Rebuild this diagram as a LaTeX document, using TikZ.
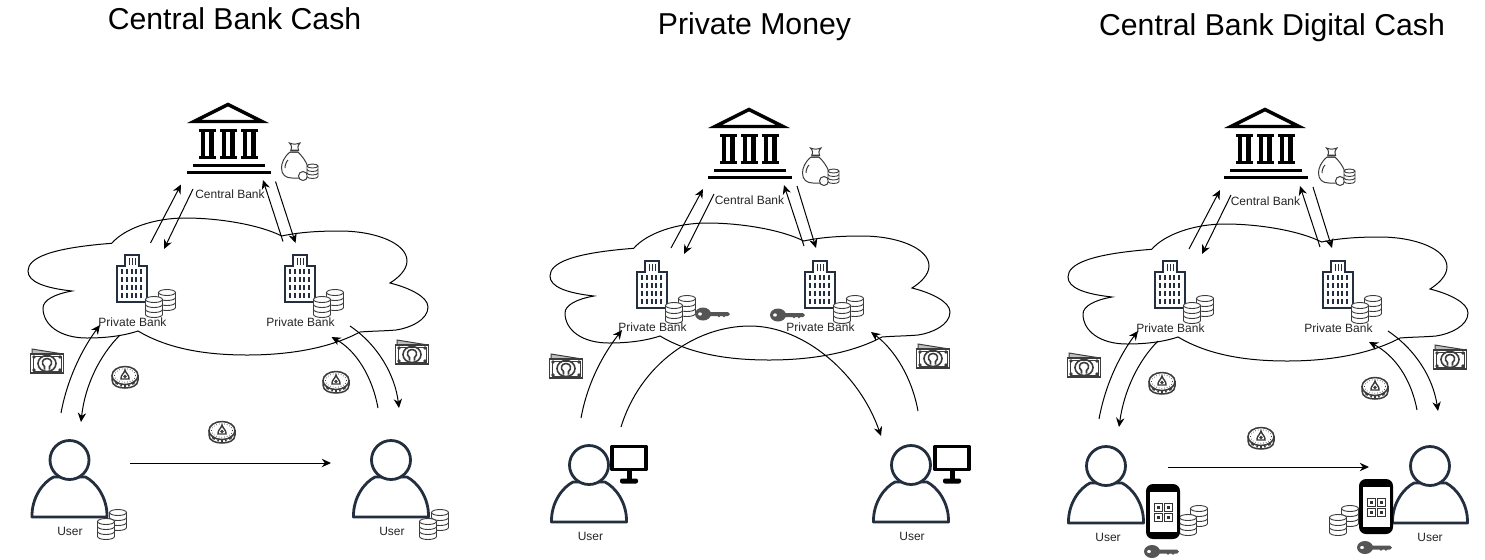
\documentclass[tikz,border=0pt]{standalone}
\usepackage{fontspec}
\setmainfont{Liberation Sans}
\usetikzlibrary{arrows.meta}
\definecolor{navy}{HTML}{232F3E}
\definecolor{stackgray}{HTML}{3C3C3C}
\definecolor{keygray}{HTML}{555555}
\tikzset{
  x=0.5pt,y=-0.5pt,
  flow/.style={line width=0.5pt,-{Stealth[length=4.6pt,width=4.2pt]}},
  smalltext/.style={font=\fontsize{6}{7}\selectfont,text=black!85,inner sep=0pt},
  titletext/.style={font=\fontsize{15.1}{18}\selectfont,inner sep=0pt},
  cloudshape/.pic={
    \draw[line width=0.5pt] (111.7,243.3)
      .. controls (125,228) and (155,218) .. (185,218)
      .. controls (220,218) and (260,225) .. (281.7,236)
      .. controls (300,232) and (320,231) .. (340,231)
      .. controls (375,231) and (407,243) .. (407,261)
      .. controls (407,270) and (398,278) .. (390,283)
      .. controls (410,288) and (428,297) .. (428,307)
      .. controls (428,320) and (410,328) .. (396,330)
      .. controls (385,331) and (372,331) .. (360,332)
      .. controls (330,348) and (290,355) .. (247,355)
      .. controls (200,355) and (165,347) .. (138,331)
      .. controls (120,337) and (100,338) .. (87,338)
      .. controls (60,338) and (43,325) .. (43,308)
      .. controls (43,300) and (55,294) .. (72,291)
      .. controls (45,288) and (28,282) .. (28,271)
      .. controls (28,258) and (50,248) .. (111.7,243.3) -- cycle;
  },
  bankicon/.pic={
    \draw[line width=1.7pt,line join=miter] (-34,20.5) -- (0,3.5) -- (34,20.5) -- cycle;
    \foreach \cx in {-21,0,21}{
      \fill (\cx-8.5,27.5) rectangle (\cx+8.5,30.5);
      \fill (\cx-8.5,54.5) rectangle (\cx+8.5,57.5);
      \fill (\cx-6.5,29) rectangle (\cx-2.4,56);
      \fill (\cx+2.4,29) rectangle (\cx+6.5,56);
    }
    \fill (-35,62.5) rectangle (37,65.5);
    \fill (-41,70) rectangle (43,73);
  },
  towericon/.pic={
    \draw[navy,line width=0.85pt,fill=white] (-14.7,24) -- (-14.7,-12) -- (-7,-12) -- (-7,-23) -- (7,-23) -- (7,-12) -- (14.7,-12) -- (14.7,24) -- cycle;
    \foreach \cx in {-2.5,0.5,3.5}{\fill[navy] (\cx-.5,-20) rectangle (\cx+.5,-13);}
    \foreach \ry in {-9,-1,7,15}{
      \foreach \cx in {-11,-6.2,-1.4,3.4,8.2}{
        \fill[navy] (\cx,\ry) rectangle (\cx+1.9,\ry+4.6);
      }
    }
  },
  stackicon/.pic={
    \draw[stackgray,line width=0.45pt,fill=white] (-8.5,-7.5) -- (-8.5,7.5) arc[start angle=180,end angle=360,x radius=8.5,y radius=-3] -- (8.5,-7.5);
    \draw[stackgray,line width=0.45pt,fill=white] (0,-7.5) ellipse[x radius=8.5,y radius=3];
    \foreach \ly in {-2.5,2.5}{
      \draw[stackgray,line width=0.45pt] (-8.5,\ly) arc[start angle=180,end angle=360,x radius=8.5,y radius=-3];
    }
  },
  bagicon/.pic={
    \draw[line width=0.5pt,stackgray,fill=white] (-5,-13) .. controls (-11,-8) and (-13.5,-2) .. (-13.5,3)
      .. controls (-13.5,10) and (-9,13) .. (-3,13) -- (5,13)
      .. controls (13,13) and (15,8) .. (13,2)
      .. controls (11,-4) and (7,-9) .. (3,-13) -- cycle;
    \draw[line width=0.5pt,stackgray,fill=white] (-4,-14.5) .. controls (-3,-17) and (-3,-19) .. (-5.5,-22)
      .. controls (-2,-20.5) and (1,-20.5) .. (5,-22)
      .. controls (2.5,-19) and (2.5,-17) .. (3.5,-14.5) -- cycle;
    \draw[line width=0.5pt,stackgray] (-5,-13) -- (3,-13) (-5,-15) -- (4,-15) (-10,3) .. controls (-10,-1) and (-8,-4) .. (-7,-5);
    \draw[line width=0.5pt,stackgray,fill=white] (8,11) circle[radius=4.5];
    \draw[stackgray,line width=0.45pt,fill=white] (12,1) -- (12,11.5) arc[start angle=180,end angle=360,x radius=5.5,y radius=-2] -- (23,1);
    \draw[stackgray,line width=0.45pt,fill=white] (17.5,1) ellipse[x radius=5.5,y radius=2];
    \foreach \ly in {4.5,8}{\draw[stackgray,line width=0.45pt] (12,\ly) arc[start angle=180,end angle=360,x radius=5.5,y radius=-2];}
  },
  billicon/.pic={
    \draw[stackgray,line width=0.5pt,fill=white!75!black] (-15,-12) -- (16,-7) -- (16,-2) -- (-15,-6) -- cycle;
    \draw[stackgray,line width=0.8pt,fill=white] (-16.5,-7) rectangle (16.5,12);
    \draw[stackgray,line width=0.5pt] (-14,-5) rectangle (14,10);
    \foreach \qx/\qy in {-13/-4,13/-4,-13/9,13/9}{\fill[stackgray] (\qx,\qy) circle[radius=1.8];}
    \draw[stackgray,line width=0.8pt] (0,2.5) ellipse[x radius=9,y radius=8];
    \draw[stackgray,line width=0.8pt] (-2.5,8.5) -- (-2.5,5.5) .. controls (-6,3) and (-5,-2.5) .. (0,-2.5) .. controls (5,-2.5) and (6,3) .. (2.5,5.5) -- (2.5,8.5);
  },
  coinicon/.pic={
    \draw[stackgray,line width=0.75pt,fill=white] (-13,-2) -- (-13,3) .. controls (-13,9) and (-6,11) .. (0,11) .. controls (6,11) and (13,9) .. (13,3) -- (13,-2);
    \draw[stackgray,line width=0.75pt,fill=white] (0,-1.5) ellipse[x radius=13,y radius=9];
    \draw[stackgray,line width=0.35pt,densely dotted] (0,-1.5) ellipse[x radius=10.5,y radius=6.8];
    \draw[stackgray,line width=0.7pt,fill=white] (-4,2) .. controls (-4.5,-2) and (-1,-3) .. (0,-7) .. controls (1,-3) and (4.5,-2) .. (4,2) -- cycle;
    \fill[stackgray] (0,-0.5) circle[radius=1.8];
    \draw[stackgray,line width=1.2pt,line cap=butt] (-9.5,5) -- (-7,7) (-4.5,8) -- (-3,8.6) (-0.8,9) -- (0.8,9) (3,8.6) -- (4.5,8) (7,7) -- (9.5,5);
  },
  usericon/.pic={
    \draw[navy,line width=1.4pt,line join=round,fill=white] (-37.5,0) .. controls (-38,-20) and (-26,-35) .. (-16,-40) -- (16,-40) .. controls (26,-35) and (38,-20) .. (37.5,0) -- cycle;
    \draw[navy,line width=1.4pt,fill=white] (0,-57) circle[radius=19.5];
  },
  monitoricon/.pic={
    \draw[line width=1.6pt,line join=round,fill=white] (-17,-12) rectangle (17,11);
    \fill (-2.5,12) rectangle (2.5,21);
    \fill[rounded corners=1pt] (-9,20) rectangle (9,25);
  },
  phoneicon/.pic={
    \fill[black,rounded corners=3.5pt] (-17,-28) rectangle (17,27);
    \fill[white] (-13.5,-20) rectangle (13.5,20);
    \foreach \qx/\qy in {-9/-9,1/-9,-9/1,1/1}{
      \draw[black!80,line width=0.5pt] (\qx,\qy) rectangle (\qx+8,\qy+8);
      \fill[black!80] (\qx+2.5,\qy+2.5) rectangle (\qx+5.5,\qy+5.5);
    }
  },
  keyicon/.pic={
    \fill[keygray,even odd rule] (0,0) ellipse[x radius=8,y radius=6.5] (-3,0) ellipse[x radius=2,y radius=1.7];
    \fill[keygray] (5,-2) -- (25,-2) -- (27,0) -- (25,2) -- (22.5,2) -- (21,3.4) -- (19.5,2) -- (17.5,2) -- (16,3.4) -- (14.5,2) -- (5,2) -- cycle;
  },
}
\begin{document}
\begin{tikzpicture}
\useasboundingbox[fill=white] (0,0) rectangle (1485,559);

% ---- titles
\node[titletext] (title1) at (234.5,19) {Central Bank Cash};
\node[titletext] (title2) at (754.5,26.5) {Private Money};
\node[titletext] (title3) at (1272,27.5) {Central Bank Digital Cash};

% ---- clouds
\pic at (0,0) {cloudshape};
\pic at (522,5) {cloudshape};
\pic at (1040,6) {cloudshape};

% ---- central banks
\pic at (228,101) {bankicon};
\pic at (749,106) {bankicon};
\pic at (1265,106) {bankicon};
\pic at (295,165) {bagicon};
\pic at (816,170) {bagicon};
\pic at (1332,170) {bagicon};
\node[smalltext] (cb1) at (230,194.5) {Central Bank};
\node[smalltext] (cb2) at (749.5,200) {Central Bank};
\node[smalltext] (cb3) at (1265.5,201) {Central Bank};

% ---- private banks
\foreach \tx/\ty in {132/278,300/278,652/284,820/284,1170/284,1338/284}{
  \pic at (\tx,\ty) {towericon};
  \pic at (\tx+35,\ty+22) {stackicon};
  \pic at (\tx+22,\ty+29) {stackicon};
}
\node[smalltext] (pb1) at (132.5,322) {Private Bank};
\node[smalltext] (pb2) at (300.5,322) {Private Bank};
\node[smalltext] (pb3) at (652.5,327) {Private Bank};
\node[smalltext] (pb4) at (820.5,327) {Private Bank};
\node[smalltext] (pb5) at (1170.5,328) {Private Bank};
\node[smalltext] (pb6) at (1338.5,328) {Private Bank};

% ---- keys of panel 2
\pic at (703,314) {keyicon};
\pic at (778,315) {keyicon};

% ---- bills and coins
\foreach \bx/\by in {47/361,412/352,566/366,933/356,1084/365,1450/357}{\pic at (\bx,\by) {billicon};}
\pic at (125,377) {coinicon};
\pic at (336,382) {coinicon};
\pic at (222,432) {coinicon};
\pic at (1162,383) {coinicon};
\pic at (1375,388) {coinicon};
\pic at (1261,438) {coinicon};

% ---- users
\pic at (69.5,517) {usericon};
\pic at (391,517) {usericon};
\pic at (589,522) {usericon};
\pic at (911,522) {usericon};
\pic at (1106,523) {usericon};
\pic at (1430,523) {usericon};
\node[smalltext] (u1) at (70,531.5) {User};
\node[smalltext] (u2) at (392,531.5) {User};
\node[smalltext] (u3) at (590.5,536.5) {User};
\node[smalltext] (u4) at (912,536.5) {User};
\node[smalltext] (u5) at (1108,537.5) {User};
\node[smalltext] (u6) at (1430,537.5) {User};

% ---- coin stacks by the users
\foreach \sx/\sy in {118/520,106/529,440/520,428/529,1199/516,1188/525,1350/516,1338/525}{\pic at (\sx,\sy) {stackicon};}

% ---- monitors, phones, keys
\pic at (629,458.5) {monitoricon};
\pic at (952,458.5) {monitoricon};
\pic at (1163,512) {phoneicon};
\pic at (1376,507) {phoneicon};
\pic at (1152,551.5) {keyicon};
\pic at (1365,547.5) {keyicon};

% ---- connector end points, panel 1
\coordinate (a1s) at (150.5,243);  \coordinate (a1e) at (181,184.5);
\coordinate (b1s) at (193,189);    \coordinate (b1e) at (164,249);
\coordinate (c1s) at (283,241.5);  \coordinate (c1e) at (263,180);
\coordinate (d1s) at (275.5,181.5);\coordinate (d1e) at (295.5,243);
\coordinate (e1s) at (61,413);     \coordinate (e1e) at (100,325);
\coordinate (f1s) at (120,335);    \coordinate (f1e) at (81,422);
\coordinate (g1s) at (378,408);    \coordinate (g1e) at (331.5,337);
\coordinate (h1s) at (350,326);    \coordinate (h1e) at (399,408);
\coordinate (i1s) at (130,463);    \coordinate (i1e) at (331,463);
% ---- panel 2
\coordinate (a2s) at (671,248);    \coordinate (a2e) at (703,189);
\coordinate (b2s) at (714,194);    \coordinate (b2e) at (684,254);
\coordinate (c2s) at (804,246);    \coordinate (c2e) at (784,185);
\coordinate (d2s) at (797,186);    \coordinate (d2e) at (816,248);
\coordinate (e2s) at (581,418);    \coordinate (e2e) at (622,330);
\coordinate (f2s) at (621,427);    \coordinate (f2m) at (750,326);  \coordinate (f2e) at (881,436);
\coordinate (g2s) at (918,411);    \coordinate (g2e) at (871,332);
% ---- panel 3
\coordinate (a3s) at (1189,249);   \coordinate (a3e) at (1220,190);
\coordinate (b3s) at (1231,195);   \coordinate (b3e) at (1202,254);
\coordinate (c3s) at (1320,247);   \coordinate (c3e) at (1300,186);
\coordinate (d3s) at (1313,187);   \coordinate (d3e) at (1332,248);
\coordinate (e3s) at (1099,419);   \coordinate (e3e) at (1138,331);
\coordinate (f3s) at (1158,341);   \coordinate (f3e) at (1119,427);
\coordinate (g3s) at (1417,410);   \coordinate (g3e) at (1369,342);
\coordinate (h3s) at (1388,331);   \coordinate (h3e) at (1438,411);
\coordinate (i3s) at (1168,467);   \coordinate (i3e) at (1369,467);

% ---- straight connectors
\foreach \k in {a1,b1,c1,d1,i1,a2,b2,c2,d2,a3,b3,c3,d3,i3}{
  \draw[flow] (\k s) -- (\k e);
}
% ---- curved connectors
\draw[flow] (e1s) .. controls (68,375) and (85,345) .. (e1e);
\draw[flow] (f1s) .. controls (100,355) and (85,385) .. (f1e);
\draw[flow] (g1s) .. controls (372,375) and (355,350) .. (g1e);
\draw[flow] (h1s) .. controls (378,345) and (395,375) .. (h1e);
\draw[flow] (e2s) .. controls (588,380) and (605,352) .. (e2e);
\draw[flow] (f2s) .. controls (640,365) and (695,326) .. (f2m) .. controls (805,326) and (860,375) .. (f2e);
\draw[flow] (g2s) .. controls (912,378) and (895,350) .. (g2e);
\draw[flow] (e3s) .. controls (1106,381) and (1122,352) .. (e3e);
\draw[flow] (f3s) .. controls (1138,361) and (1124,391) .. (f3e);
\draw[flow] (g3s) .. controls (1411,378) and (1394,355) .. (g3e);
\draw[flow] (h3s) .. controls (1416,350) and (1433,378) .. (h3e);
\end{tikzpicture}
\end{document}
